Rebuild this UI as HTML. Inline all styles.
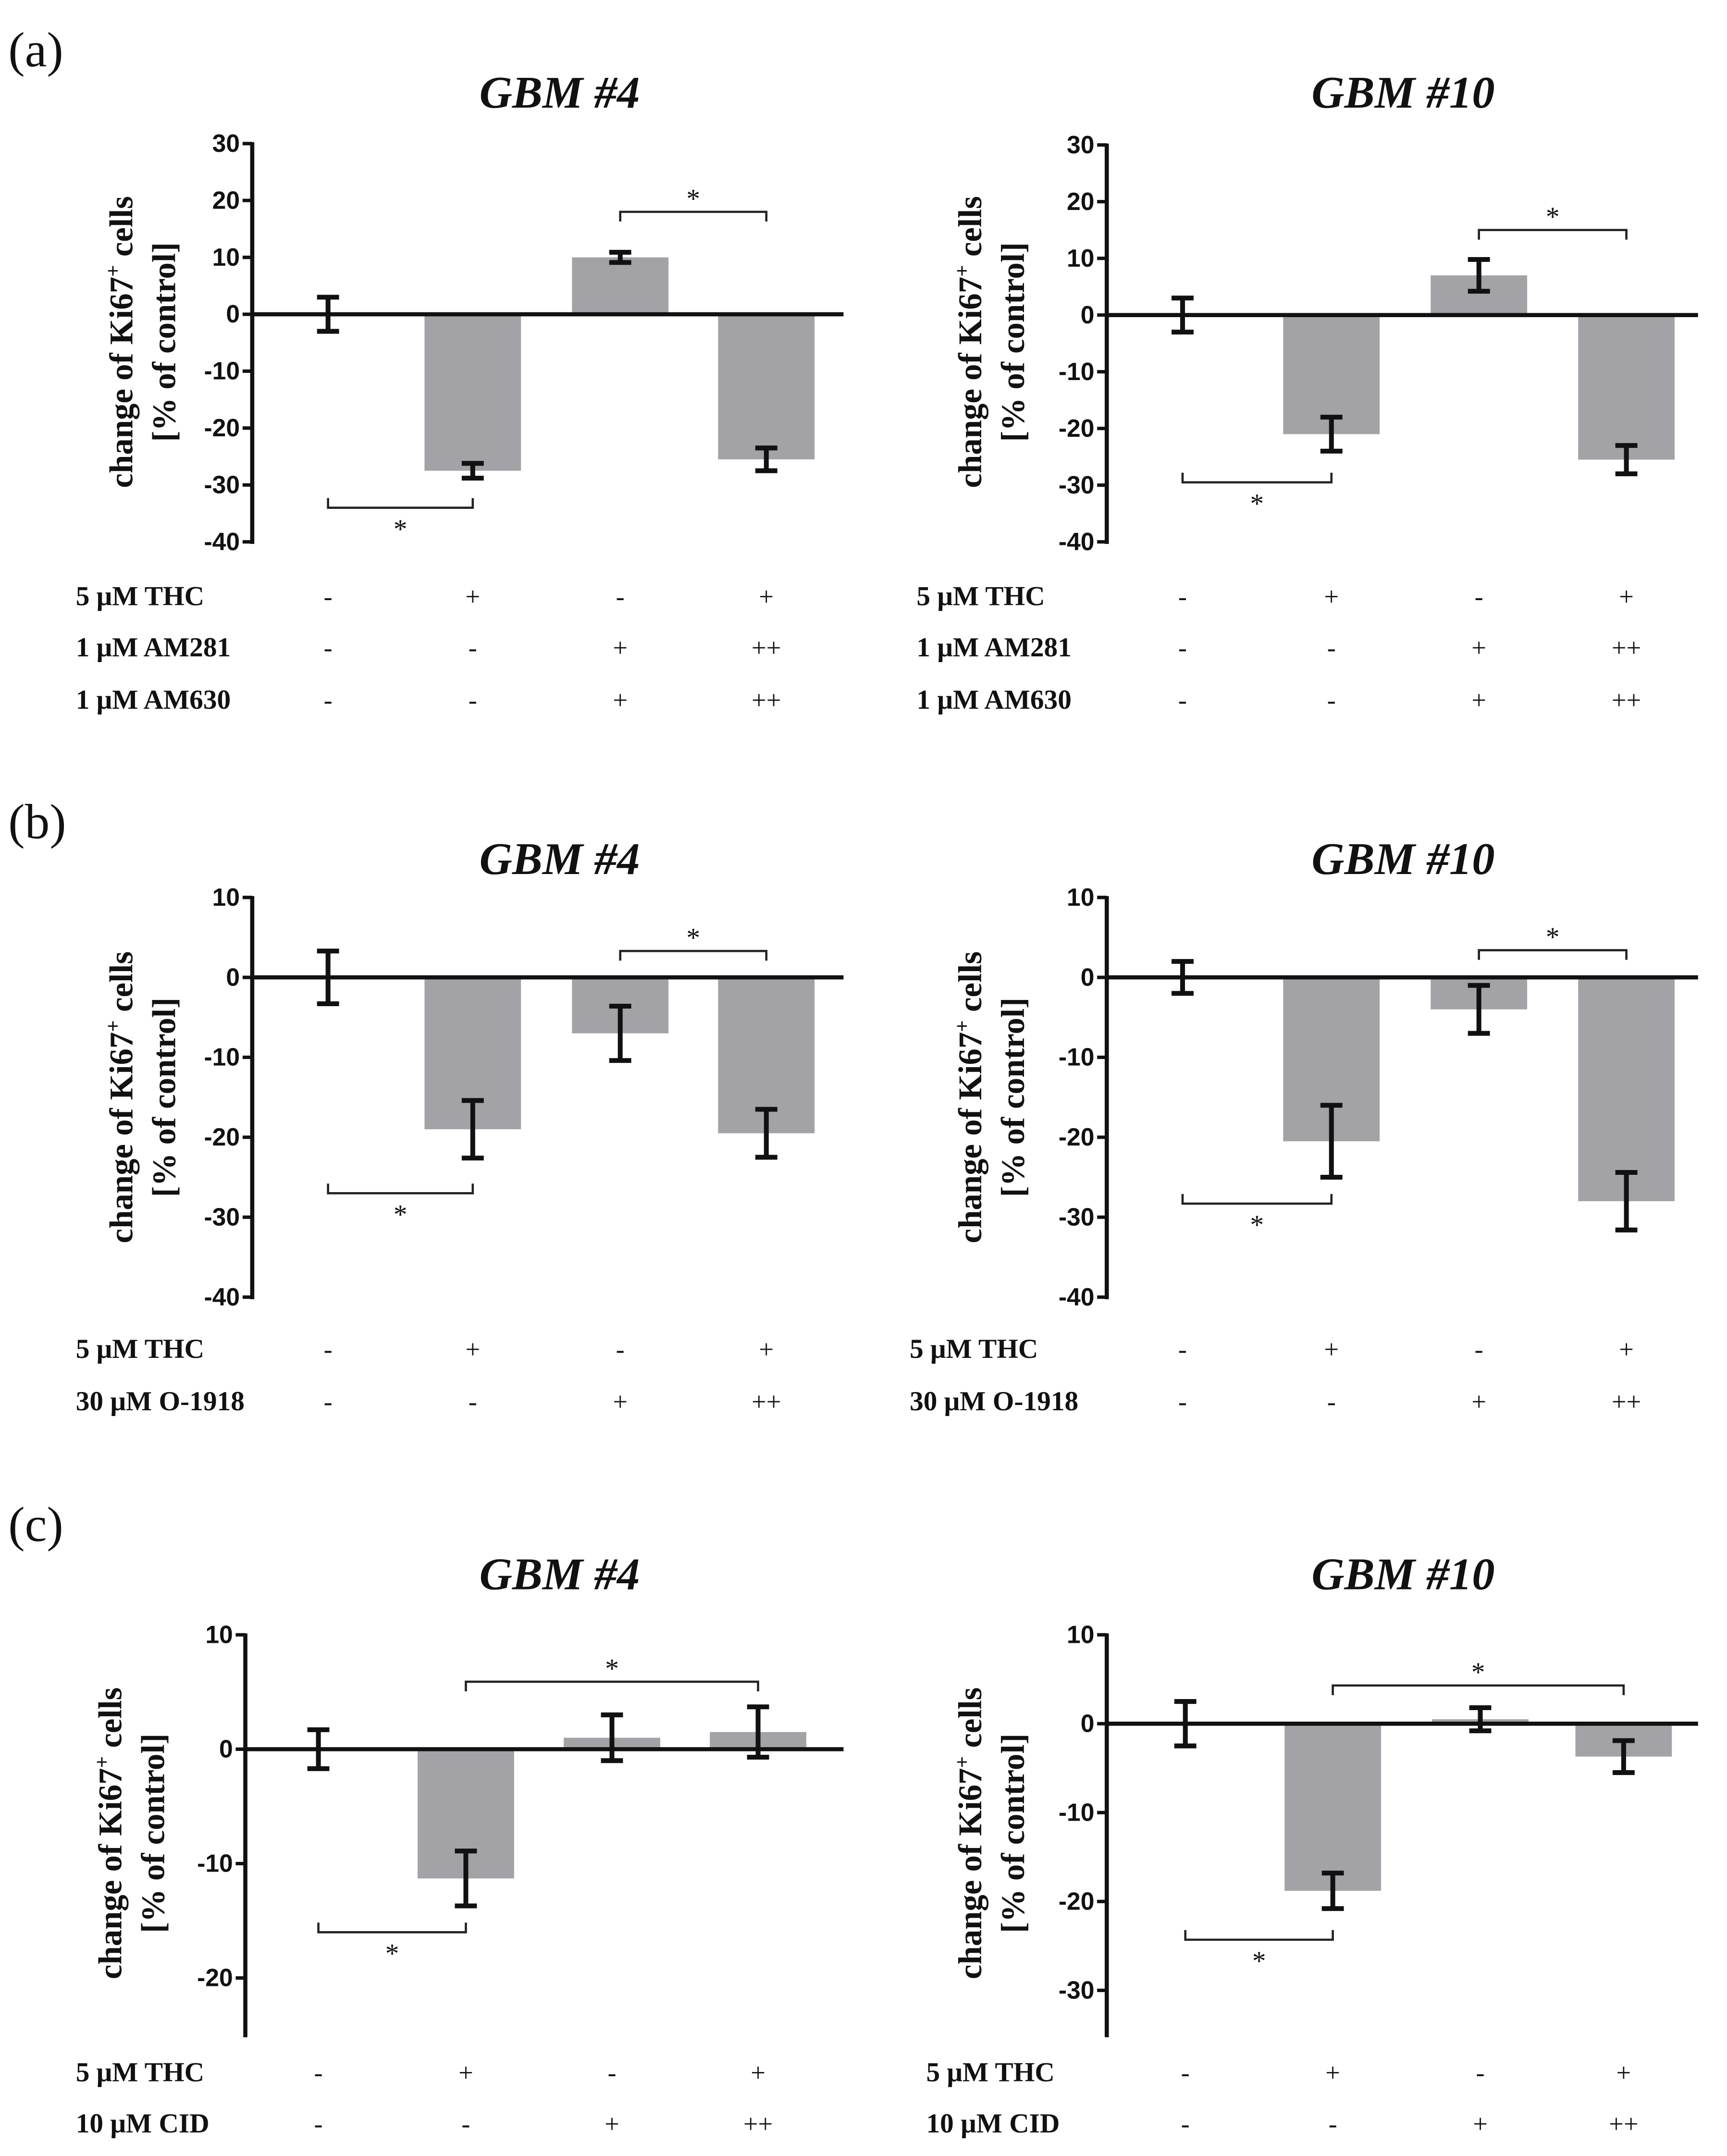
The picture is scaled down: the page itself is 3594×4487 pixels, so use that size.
<!DOCTYPE html>
<html><head><meta charset="utf-8"><style>
html,body{margin:0;padding:0;background:#fff;}
svg{display:block;}
.tick{font-family:"Liberation Sans",sans-serif;font-weight:bold;font-size:18px;fill:#111;}
.ser{font-family:"Liberation Serif",serif;fill:#111;}
</style></head><body>
<svg id="fig" width="3594" height="4487" viewBox="0 0 1253 1564" xmlns="http://www.w3.org/2000/svg"></svg>
<script>
// ---- data ----
const categories = ["ctrl","THC","antagonist","THC+antagonist"];
const a4Values = [0, -27.5, 10, -25.5];
const a4Errors = [3, 1.3, 0.9, 2];
const a10Values = [0, -21, 7, -25.5];
const a10Errors = [3, 3, 2.8, 2.5];
const b4Values = [0, -19, -7, -19.5];
const b4Errors = [3.3, 3.6, 3.4, 3];
const b10Values = [0, -20.5, -4, -28];
const b10Errors = [2, 4.5, 3, 3.6];
const c4Values = [0, -11.3, 1, 1.5];
const c4Errors = [1.7, 2.4, 2, 2.2];
const c10Values = [0, -18.8, 0.5, -3.7];
const c10Errors = [2.5, 2, 1.3, 1.8];
const yTicksA = [30, 20, 10, 0, -10, -20, -30, -40];
const yTicksB = [10, 0, -10, -20, -30, -40];
const yTicksC4 = [10, 0, -10, -20];
const yTicksC10 = [10, 0, -10, -20, -30];
const rowsA = [["5 μM THC", ["-","+","-","+"]], ["1 μM AM281", ["-","-","+","++"]], ["1 μM AM630", ["-","-","+","++"]]];
const rowsB = [["5 μM THC", ["-","+","-","+"]], ["30 μM O-1918", ["-","-","+","++"]]];
const rowsC = [["5 μM THC", ["-","+","-","+"]], ["10 μM CID", ["-","-","+","++"]]];
const bracketsA4 = [[0,1,-34],[2,3,18]];
const bracketsA10 = [[0,1,-29.5],[2,3,15]];
const bracketsB4 = [[0,1,-27],[2,3,3.3]];
const bracketsB10 = [[0,1,-28.3],[2,3,3.4]];
const bracketsC4 = [[0,1,-16],[1,3,5.9]];
const bracketsC10 = [[0,1,-24.3],[1,3,4.3]];

// ---- layout ----
const svg = document.getElementById('fig');
const NS = 'http://www.w3.org/2000/svg';
function mk(tag, attrs, parent){
  const e = document.createElementNS(NS, tag);
  for (const k in attrs) e.setAttribute(k, attrs[k]);
  (parent||svg).appendChild(e);
  return e;
}
function panel(o){
  const g = mk('g', {});
  
  
  const yMax = o.ticks[0], yMin = o.ticks[o.ticks.length-1];
  const y = v => o.yTop + (yMax - v) / (yMax - yMin) * (o.yBot - o.yTop);
  const x = i => o.xs[i];
  const t = mk('text', {x:o.titleX, y:o.titleY, 'text-anchor':'middle', class:'ser', 'font-size':33, 'font-style':'italic', 'font-weight':'bold'}, g);
  t.textContent = o.title;
  
  
  o.values.forEach((v,i)=>{
    const r = mk('rect', {x:x(i)-35, y:Math.min(y(v),y(0)), width:70, height:Math.abs(y(v)-y(0)), fill:'#a3a2a7'}, g);
    
    
  });
  const ax = mk('line', {x1:o.axisX, x2:o.axisX, y1:y(yMax)-1, y2:o.axisEnd || y(yMin)+1.5, stroke:'#111', 'stroke-width':3}, g);
  
  
  o.ticks.forEach(tv=>{
    mk('line', {x1:o.axisX-7, x2:o.axisX, y1:y(tv), y2:y(tv), stroke:'#111', 'stroke-width':2.5}, g);
    const tl = mk('text', {x:o.axisX-9, y:y(tv)+6, 'text-anchor':'end', class:'tick'}, g);
    tl.textContent = tv;
    
    
  });
  const zl = mk('line', {x1:o.axisX, x2:o.xEnd, y1:y(0), y2:y(0), stroke:'#111', 'stroke-width':3}, g);
  
  
  o.values.forEach((v,i)=>{
    const e = o.errors[i], eg = mk('g', {stroke:'#111','stroke-width':3.5}, g);
    
    
    mk('line', {x1:x(i), x2:x(i), y1:y(v+e), y2:y(v-e)}, eg);
    mk('line', {x1:x(i)-8, x2:x(i)+8, y1:y(v+e), y2:y(v+e)}, eg);
    mk('line', {x1:x(i)-8, x2:x(i)+8, y1:y(v-e), y2:y(v-e)}, eg);
  });
  o.brackets.forEach(b=>{
    const by = y(b[2]), up = b[2] < 0, x1 = x(b[0]), x2 = x(b[1]);
    const d = up ? -7 : 7;
    const p = mk('path', {d:`M${x1},${by+d} L${x1},${by} L${x2},${by} L${x2},${by+d}`, fill:'none', stroke:'#222', 'stroke-width':1.6}, g);
    
    
    const s = mk('text', {x:(x1+x2)/2, y: up ? by+22 : by-3, 'text-anchor':'middle', class:'ser', 'font-size':20}, g);
    s.textContent = '*';
    
    
  });
  const cy = o.labelCY;
  const yt = mk('text', {transform:`translate(${o.labelX},${cy}) rotate(-90)`, 'text-anchor':'middle', class:'ser', 'font-size':24, 'font-weight':'bold'}, g);
  
  
  yt.innerHTML = 'change of Ki67<tspan dy="-9" font-size="15">+</tspan><tspan dy="9"> cells</tspan>';
  const yt2 = mk('text', {transform:`translate(${o.labelX+31},${cy}) rotate(-90)`, 'text-anchor':'middle', class:'ser', 'font-size':24, 'font-weight':'bold'}, g);
  yt2.textContent = '[% of control]';
  
  
  o.rows.forEach((r,ri)=>{
    const ry = o.rowY[ri];
    const lt = mk('text', {x:o.rowLabelX, y:ry, class:'ser', 'font-size':20, 'font-weight':'bold'}, g);
    lt.textContent = r[0];
    
    
    r[1].forEach((s,i)=>{
      const st = mk('text', {x:x(i), y:ry, 'text-anchor':'middle', class:'ser', 'font-size':19}, g);
      st.textContent = s;
      
      
    });
  });
}
const XL = [238,343,450,556], XR = [858,966,1073,1180];
const XLc = [231,338,444,550], XRc = [860,967,1074,1178];
panel({name:'panel-a-gbm4', title:'GBM #4', titleX:406, titleY:78, values:a4Values, errors:a4Errors, ticks:yTicksA, yTop:104, yBot:393, axisX:183, xEnd:612, xs:XL, brackets:bracketsA4, labelX:96, labelCY:248, rows:rowsA, rowY:[439,476,514], rowLabelX:55});
panel({name:'panel-a-gbm10', title:'GBM #10', titleX:1018, titleY:78, values:a10Values, errors:a10Errors, ticks:yTicksA, yTop:105, yBot:393, axisX:803, xEnd:1232, xs:XR, brackets:bracketsA10, labelX:712, labelCY:248, rows:rowsA, rowY:[439,476,514], rowLabelX:665});
panel({name:'panel-b-gbm4', title:'GBM #4', titleX:406, titleY:634, values:b4Values, errors:b4Errors, ticks:yTicksB, yTop:651, yBot:941, axisX:183, xEnd:612, xs:XL, brackets:bracketsB4, labelX:96, labelCY:796, rows:rowsB, rowY:[985,1023], rowLabelX:55});
panel({name:'panel-b-gbm10', title:'GBM #10', titleX:1018, titleY:634, values:b10Values, errors:b10Errors, ticks:yTicksB, yTop:651, yBot:941, axisX:803, xEnd:1232, xs:XR, brackets:bracketsB10, labelX:712, labelCY:796, rows:rowsB, rowY:[985,1023], rowLabelX:660});
panel({name:'panel-c-gbm4', title:'GBM #4', titleX:406, titleY:1153, values:c4Values, errors:c4Errors, ticks:yTicksC4, yTop:1186, yBot:1435, axisX:178, axisEnd:1478, xEnd:612, xs:XLc, brackets:bracketsC4, labelX:88, labelCY:1330, rows:rowsC, rowY:[1510,1547], rowLabelX:55});
panel({name:'panel-c-gbm10', title:'GBM #10', titleX:1018, titleY:1153, values:c10Values, errors:c10Errors, ticks:yTicksC10, yTop:1186, yBot:1444, axisX:803, axisEnd:1478, xEnd:1232, xs:XRc, brackets:bracketsC10, labelX:712, labelCY:1330, rows:rowsC, rowY:[1510,1547], rowLabelX:672});
[['(a)',48],['(b)',608],['(c)',1118]].forEach(p=>{
  const t = mk('text', {x:6, y:p[1], class:'ser', 'font-size':36});
  t.textContent = p[0];
  
  
});
</script>
</body></html>
